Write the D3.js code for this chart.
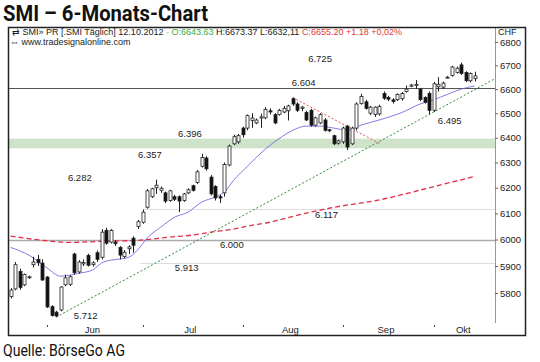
<!DOCTYPE html>
<html lang="de">
<head>
    <meta charset="utf-8">
    <script src="https://d3js.org/d3.v7.min.js"></script>
    <style>
        body { margin: 0; background: #fff; }
        svg text { font-family: "Liberation Sans", Arial, sans-serif; }
    </style>
</head>
<body>
    <svg id="chart" width="540" height="362"></svg>

    <script type="text/javascript" charset="utf-8">
        // daily candles, 21.05.2012 - 12.10.2012 (index = trading day)
        const opens = [5787, 5815, 5880, 5830, 5858, 5905, 5925, 5911, 5859, 5750, 5730, 5738, 5830, 5832, 5945, 5878, 5908, 5940, 5905, 5950,
            5933, 6035, 5990, 5990, 5970, 5935, 5965, 6005, 6050, 6066, 6124, 6165, 6200, 6190, 6180, 6150, 6165, 6165, 6150, 6180,
            6208, 6221, 6285, 6318, 6242, 6205, 6165, 6180, 6290, 6375, 6383, 6439, 6439, 6470, 6460, 6480, 6481, 6510, 6494, 6495,
            6505, 6510, 6560, 6538, 6520, 6503, 6512, 6451, 6460, 6472, 6432, 6408, 6378, 6383, 6447, 6375, 6439, 6540, 6547, 6500,
            6495, 6497, 6582, 6565, 6555, 6556, 6560, 6590, 6612, 6615, 6600, 6565, 6582, 6512, 6610, 6608, 6648, 6657, 6670, 6702,
            6670, 6635, 6643.63];
        const highs = [5818, 5915, 5890, 5872, 5864, 5935, 5942, 5925, 5862, 5755, 5735, 5825, 5868, 5866, 5950, 5922, 5925, 5946, 5918, 5958,
            6040, 6045, 6040, 5998, 5975, 5960, 5978, 6012, 6075, 6115, 6195, 6200, 6232, 6205, 6185, 6192, 6172, 6170, 6180, 6198,
            6212, 6270, 6335, 6325, 6250, 6210, 6172, 6300, 6372, 6412, 6415, 6445, 6495, 6500, 6478, 6498, 6525, 6520, 6500, 6518,
            6530, 6535, 6565, 6545, 6530, 6510, 6518, 6486, 6500, 6480, 6436, 6412, 6392, 6445, 6452, 6445, 6545, 6580, 6555, 6530,
            6528, 6535, 6590, 6572, 6562, 6582, 6588, 6615, 6622, 6638, 6605, 6570, 6590, 6630, 6650, 6632, 6655, 6698, 6695, 6712,
            6675, 6670, 6673.37];
        const lows = [5780, 5810, 5812, 5825, 5852, 5895, 5900, 5845, 5745, 5714, 5712, 5733, 5825, 5826, 5868, 5872, 5900, 5898, 5898, 5915,
            5925, 5980, 5985, 5975, 5925, 5930, 5945, 5950, 6040, 6060, 6118, 6160, 6176, 6180, 6140, 6145, 6148, 6105, 6145, 6175,
            6185, 6215, 6280, 6268, 6170, 6150, 6140, 6165, 6285, 6370, 6375, 6400, 6430, 6440, 6455, 6440, 6475, 6495, 6455, 6490,
            6500, 6470, 6530, 6505, 6508, 6468, 6445, 6445, 6455, 6425, 6422, 6370, 6372, 6375, 6350, 6370, 6430, 6535, 6515, 6492,
            6485, 6490, 6555, 6550, 6540, 6550, 6552, 6585, 6608, 6600, 6550, 6540, 6495, 6505, 6590, 6600, 6645, 6652, 6665, 6660,
            6630, 6628, 6632.11];
        const closes = [5811, 5905, 5820, 5868, 5860, 5915, 5912, 5848, 5749, 5718, 5716, 5822, 5856, 5860, 5875, 5915, 5913, 5903, 5912, 5925,
            6028, 5986, 6035, 5984, 5941, 5952, 5972, 5978, 6068, 6105, 6188, 6196, 6210, 6198, 6148, 6188, 6155, 6148, 6176, 6192,
            6190, 6263, 6320, 6275, 6176, 6160, 6160, 6292, 6366, 6404, 6408, 6412, 6490, 6480, 6472, 6485, 6516, 6505, 6460, 6512,
            6520, 6530, 6538, 6512, 6525, 6472, 6451, 6481, 6494, 6430, 6428, 6375, 6387, 6439, 6362, 6439, 6538, 6569, 6520, 6525,
            6525, 6527, 6562, 6558, 6548, 6578, 6582, 6600, 6617, 6620, 6556, 6545, 6512, 6622, 6620, 6625, 6650, 6693, 6688, 6666,
            6635, 6666, 6655.20];

        // 20-day average (blue) and long average (red), read at some trading days
        const fastIdx = [0, 4, 8, 11, 15, 18, 20, 22, 24, 26, 28, 30, 33, 36, 39, 42, 45, 47, 49, 52, 56, 59, 62, 65, 68, 71, 74, 77, 81, 86, 90, 93, 96, 99, 102];
        const fastVal = [5970, 5941, 5893, 5862, 5873, 5885, 5911, 5922, 5926, 5933, 5962, 6005, 6047, 6085, 6105, 6144, 6164, 6184, 6229, 6284,
            6354, 6396, 6430, 6447, 6447, 6439, 6430, 6451, 6472, 6503, 6538, 6556, 6578, 6600, 6613];
        const slowIdx = [0, 7, 13, 20, 28, 35, 40, 44, 49, 52, 57, 64, 70, 82, 92, 102];
        const slowVal = [6013, 5997, 5989, 5993, 5997, 6009, 6017, 6028, 6040, 6051, 6066, 6097, 6120, 6156, 6200, 6245];

        // trend lines: [start index, start value, end index, end value]
        const upTrend = [10, 5712, 92, 6495];
        const downTrend = [62, 6565, 81.2, 6375];

        // support zone and horizontal levels
        const zone = [6357, 6396];
        const levelVal = [6604, 6000, 6117, 5913];
        const levelFrom = [-1, -1, 29, 28.5];

        // price notes
        const noteText = ["6.725", "6.604", "6.396", "6.357", "6.282", "6.117", "6.000", "5.913", "5.712", "6.495"];
        const noteIdx = [65.4, 61.8, 36.8, 28, 12.6, 66.9, 46, 36.1, 13.9, 93.9];
        const noteVal = [6714, 6613, 6403, 6318, 6227, 6082, 5968, 5881, 5705, 6456];

        const yTicks = [5800, 5900, 6000, 6100, 6200, 6300, 6400, 6500, 6600, 6700, 6800];
        const months = ["Jun", "Jul", "Aug", "Sep", "Okt"];
        const monthStart = [8, 29, 51, 73, 93];
        const monthMid = [18, 39.5, 61.5, 82.5, 99.5];

        const svg = d3.select("#chart");
        const plot = { left: 8, right: 495, top: 28, bottom: 323 };

        const x = d3.scaleLinear().domain([0, 102]).range([10.6, 474.7]);
        const y = d3.scaleLog().domain([5800, 6800]).range([293, 42]);

        svg.append("clipPath").attr("id", "clip")
            .append("rect")
            .attr("x", plot.left).attr("y", plot.top)
            .attr("width", plot.right - plot.left).attr("height", plot.bottom - plot.top);

        const g = svg.append("g").attr("clip-path", "url(#clip)");

        // green support zone
        g.append("rect")
            .attr("x", plot.left).attr("width", plot.right - plot.left)
            .attr("y", y(zone[1])).attr("height", y(zone[0]) - y(zone[1]))
            .attr("fill", "#cfe3cb");

        const levelColor = ["#555", "#aaa", "#ddd", "#ddd"];
        const levelWidth = [1, 1.5, 1, 1];
        levelVal.forEach((v, k) => {
            g.append("line")
                .attr("x1", x(levelFrom[k])).attr("x2", plot.right)
                .attr("y1", Math.round(y(v)) + 0.5).attr("y2", Math.round(y(v)) + 0.5)
                .attr("stroke", levelColor[k]).attr("stroke-width", levelWidth[k]);
        });

        const line = d3.line().curve(d3.curveMonotoneX);

        g.append("path")
            .attr("d", line(slowIdx.map((d, k) => [x(d), y(slowVal[k])])))
            .attr("fill", "none").attr("stroke", "#e0304a")
            .attr("stroke-width", 1.3).attr("stroke-dasharray", "5,3");

        g.append("path")
            .attr("d", line(fastIdx.map((d, k) => [x(d), y(fastVal[k])])))
            .attr("fill", "none").attr("stroke", "#6658dc")
            .attr("stroke-width", 0.8);

        // up trend, extended to the right edge
        const ux1 = x(upTrend[0]), uy1 = y(upTrend[1]);
        const ux2 = x(upTrend[2]), uy2 = y(upTrend[3]);
        const slope = (uy2 - uy1) / (ux2 - ux1);
        g.append("line")
            .attr("x1", ux1).attr("y1", uy1)
            .attr("x2", plot.right).attr("y2", uy1 + slope * (plot.right - ux1))
            .attr("stroke", "#2e8b3a").attr("stroke-width", 1)
            .attr("stroke-dasharray", "2,2");

        g.append("line")
            .attr("x1", x(downTrend[0])).attr("y1", y(downTrend[1]))
            .attr("x2", x(downTrend[2])).attr("y2", y(downTrend[3]))
            .attr("stroke", "#e05555").attr("stroke-width", 1)
            .attr("stroke-dasharray", "2,2");

        // candles
        const candles = g.selectAll(".candle")
            .data(d3.range(opens.length))
            .enter().append("g")
            .attr("class", "candle");

        candles.append("line")
            .attr("x1", i => Math.round(x(i)) + 0.5).attr("x2", i => Math.round(x(i)) + 0.5)
            .attr("y1", i => y(highs[i])).attr("y2", i => y(lows[i]))
            .attr("stroke", "#222").attr("stroke-width", 1);

        candles.append("rect")
            .attr("x", i => Math.round(x(i)) - 1)
            .attr("width", 3)
            .attr("y", i => y(Math.max(opens[i], closes[i])))
            .attr("height", i => Math.max(1, y(Math.min(opens[i], closes[i])) - y(Math.max(opens[i], closes[i]))))
            .attr("fill", i => closes[i] >= opens[i] ? "#fff" : "#111")
            .attr("stroke", "#222").attr("stroke-width", 0.8);

        // notes
        svg.append("g").selectAll("text")
            .data(noteText)
            .enter().append("text")
            .attr("x", (d, k) => x(noteIdx[k]))
            .attr("y", (d, k) => y(noteVal[k]))
            .attr("font-size", 9.5)
            .attr("fill", "#222")
            .text(d => d);

        // right price axis
        svg.append("line")
            .attr("x1", plot.right + 0.5).attr("x2", plot.right + 0.5)
            .attr("y1", plot.top).attr("y2", plot.bottom)
            .attr("stroke", "#999");

        const axis = svg.append("g")
            .attr("transform", `translate(${plot.right},0)`)
            .call(d3.axisRight(y).tickValues(yTicks).tickSize(3).tickPadding(2).tickFormat(d3.format("d")));
        axis.select(".domain").remove();
        axis.selectAll("line").attr("stroke", "#666");
        axis.selectAll("text").attr("font-size", 9.5).attr("fill", "#222")
            .style("font-family", "'Liberation Sans', Arial, sans-serif");

        svg.append("text").attr("x", 498).attr("y", 35)
            .attr("font-size", 9).attr("fill", "#222").text("CHF");

        // month axis
        svg.append("g").selectAll("rect")
            .data(monthStart)
            .enter().append("rect")
            .attr("x", d => Math.round(x(d)))
            .attr("y", 325).attr("width", 1).attr("height", 2)
            .attr("fill", "#444");

        svg.append("g").selectAll("text")
            .data(months)
            .enter().append("text")
            .attr("x", (d, k) => x(monthMid[k]))
            .attr("y", 333)
            .attr("text-anchor", "middle")
            .attr("font-size", 9.5).attr("fill", "#222")
            .text(d => d);

        // frame
        svg.append("rect")
            .attr("x", 8.5).attr("y", 27.5).attr("width", 517).attr("height", 308)
            .attr("fill", "none").attr("stroke", "#222").attr("stroke-width", 1.5);

        // header inside frame
        const head = svg.append("text").attr("x", 12).attr("y", 35).attr("font-size", 9).attr("fill", "#222");
        head.append("tspan").text("⇄ SMI» PR [.SMI  Täglich] 12.10.2012 ");
        head.append("tspan").attr("fill", "#9c9").text("- ");
        head.append("tspan").attr("fill", "#3aad3a").text("O:6643.63 ");
        head.append("tspan").text("H:6673.37 L:6632,11 ");
        head.append("tspan").attr("fill", "#e03a3a").text("C:6655.20 +1.18 +0,02%");

        svg.append("text").attr("x", 10).attr("y", 45).attr("font-size", 9).attr("fill", "#222")
            .text("⇔ www.tradesignalonline.com");

        // title and source
        svg.append("text")
            .attr("x", 3).attr("y", 21)
            .attr("font-size", 22).attr("font-weight", "bold").attr("fill", "#111")
            .attr("textLength", 205).attr("lengthAdjust", "spacingAndGlyphs")
            .style("font-family", "Roboto, sans-serif")
            .text("SMI – 6-Monats-Chart");

        svg.append("text")
            .attr("x", 3).attr("y", 356)
            .attr("font-size", 16).attr("fill", "#111")
            .attr("textLength", 122).attr("lengthAdjust", "spacingAndGlyphs")
            .style("font-family", "Roboto, sans-serif")
            .text("Quelle: BörseGo AG");
    </script>
</body>
</html>
